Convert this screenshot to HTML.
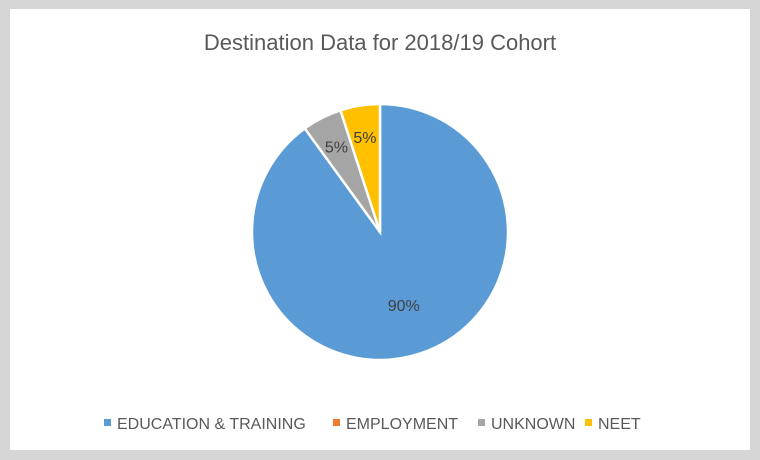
<!DOCTYPE html>
<html><head><style>
body{margin:0;width:760px;height:460px;background:#d6d6d6;font-family:"Liberation Sans",sans-serif;overflow:hidden}
#panel{position:absolute;left:10px;top:9px;width:740px;height:441px;background:#fff}
</style></head><body>
<div id="panel"></div>
<svg width="760" height="460" style="position:absolute;left:0;top:0">
<text x="380" y="50" text-anchor="middle" font-size="22" fill="#595959">Destination Data for 2018/19 Cohort</text>
<g id="pie"></g>
<g id="legend"></g>
</svg>
<script>
const categories=["EDUCATION & TRAINING","EMPLOYMENT","UNKNOWN","NEET"];
const values=[90,0,5,5];
const labels=["90%","0%","5%","5%"];
const colors=["#5b9bd5","#ed7d31","#a5a5a5","#ffc000"];
const cx=380,cy=232,r=128;
const ns="http://www.w3.org/2000/svg";
const pie=document.getElementById('pie');
const total=values.reduce((a,b)=>a+b,0);
let a0=0;
values.forEach((v,i)=>{
  const a1=a0+v/total*2*Math.PI;
  if(v>0){
    const p=document.createElementNS(ns,'path');
    const x0=cx+r*Math.sin(a0),y0=cy-r*Math.cos(a0),x1=cx+r*Math.sin(a1),y1=cy-r*Math.cos(a1);
    p.setAttribute('d',`M${cx},${cy}L${x0},${y0}A${r},${r} 0 ${a1-a0>Math.PI?1:0} 1 ${x1},${y1}Z`);
    p.setAttribute('fill',colors[i]);p.setAttribute('stroke','#fff');p.setAttribute('stroke-width','2.5');
    
    
    pie.appendChild(p);
    const am=(a0+a1)/2, lr=v>20?r*0.6:r*0.75;
    const t=document.createElementNS(ns,'text');
    t.setAttribute('x',cx+lr*Math.sin(am));t.setAttribute('y',cy-lr*Math.cos(am)+6);
    t.setAttribute('text-anchor','middle');t.setAttribute('font-size','16');t.setAttribute('fill','#404040');
    t.textContent=labels[i];
    
    
    pie.appendChild(t);
  }
  a0=a1;
});
const lg=document.getElementById('legend');
const lx=[104,333,478,585];
categories.forEach((c,i)=>{
  const g=document.createElementNS(ns,'g');
  
  
  const s=document.createElementNS(ns,'rect');
  s.setAttribute('x',lx[i]);s.setAttribute('y',419);s.setAttribute('width',7);s.setAttribute('height',7);s.setAttribute('fill',colors[i]);
  const t=document.createElementNS(ns,'text');
  t.setAttribute('x',lx[i]+13);t.setAttribute('y',429);t.setAttribute('font-size','16');t.setAttribute('fill','#595959');
  t.textContent=c;
  g.appendChild(s);g.appendChild(t);lg.appendChild(g);
});
</script>
</body></html>
